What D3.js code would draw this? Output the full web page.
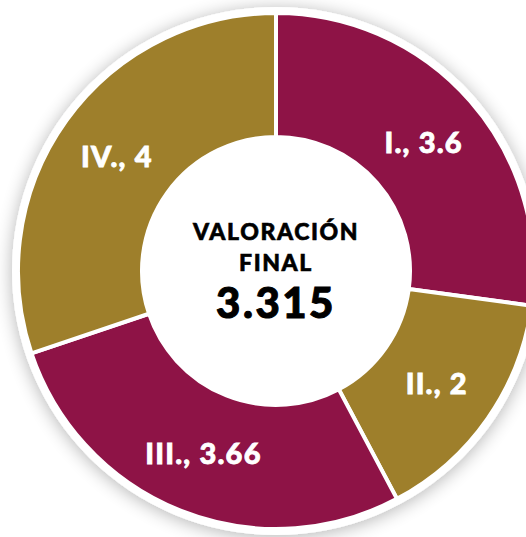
<!DOCTYPE html>
<html>
<head>
<meta charset="utf-8">
<script src="https://cdn.jsdelivr.net/npm/d3@7"></script>
<style>
html,body{margin:0;padding:0;background:#fff;}
svg{display:block;}
</style>
</head>
<body>
<svg id="chart" width="526" height="537"></svg>
<script>
const categories = ["I.", "II.", "III.", "IV."];
const values = [3.6, 2, 3.66, 4];
const colors = ["#8E1346", "#9E7F2B", "#8E1346", "#9E7F2B"];
const centerTitle = ["VALORACIÓN", "FINAL"];
const centerValue = "3.315";

const W = 526, H = 537;
const cx = 276, cy = 271;
const rOuter = 258, rInner = 134;
const FONT = "Lato, 'Open Sans', sans-serif";

const svg = d3.select("#chart");
const defs = svg.append("defs");
const f = defs.append("filter").attr("id","sh").attr("x","-20%").attr("y","-20%").attr("width","140%").attr("height","140%");
f.append("feGaussianBlur").attr("in","SourceAlpha").attr("stdDeviation",9).attr("result","b");
f.append("feOffset").attr("in","b").attr("dx",0).attr("dy",2).attr("result","o");
f.append("feComponentTransfer").attr("in","o").attr("result","t")
  .append("feFuncA").attr("type","linear").attr("slope",0.3);
const m = f.append("feMerge");
m.append("feMergeNode").attr("in","t");
m.append("feMergeNode").attr("in","SourceGraphic");

const g = svg.append("g").attr("transform", `translate(${cx},${cy})`);

g.append("circle").attr("r", rOuter + 6).attr("fill", "#fff").attr("filter", "url(#sh)");

const data = categories.map((c, i) => ({cat: c, value: values[i], color: colors[i]}));
const pie = d3.pie().sort(null).value(d => d.value).startAngle(0).endAngle(2 * Math.PI);
const arc = d3.arc().innerRadius(rInner).outerRadius(rOuter);
const arcs = pie(data);

g.selectAll("path.slice").data(arcs).join("path")
  .attr("class","slice")
  .attr("d", arc)
  .attr("fill", d => d.data.color)
  .attr("stroke", "#fff")
  .attr("stroke-width", 4)
  .attr("stroke-linejoin", "miter");

g.append("circle").attr("r", rInner).attr("fill", "#fff");

g.selectAll("text.lbl").data(arcs).join("text")
  .attr("class","lbl")
  .attr("transform", d => `translate(${arc.centroid(d)})`)
  .attr("text-anchor","middle")
  .attr("dy","0.36em")
  .attr("fill","#fff")
  .attr("stroke","#fff").attr("stroke-width",0.8)
  .attr("font-family", FONT)
  .attr("font-weight", 900)
  .attr("font-size", 29)
  .attr("letter-spacing", 1.2)
  .text(d => `${d.data.cat}, ${d.data.value}`);

g.append("text").attr("x",0).attr("y",-31)
  .attr("text-anchor","middle").attr("fill","#000").attr("stroke","#000").attr("stroke-width",0.6)
  .attr("font-family", FONT).attr("font-weight",900)
  .attr("font-size",23).attr("letter-spacing",1.6).text(centerTitle[0]);
g.append("text").attr("x",0).attr("y",0)
  .attr("text-anchor","middle").attr("fill","#000").attr("stroke","#000").attr("stroke-width",0.6)
  .attr("font-family", FONT).attr("font-weight",900)
  .attr("font-size",23).attr("letter-spacing",1.6).text(centerTitle[1]);
g.append("text").attr("x",0).attr("y",47)
  .attr("text-anchor","middle").attr("fill","#000").attr("stroke","#000").attr("stroke-width",1)
  .attr("font-family", FONT).attr("font-weight",900)
  .attr("font-size",42).attr("letter-spacing",2.5).text(centerValue);
</script>
</body>
</html>
